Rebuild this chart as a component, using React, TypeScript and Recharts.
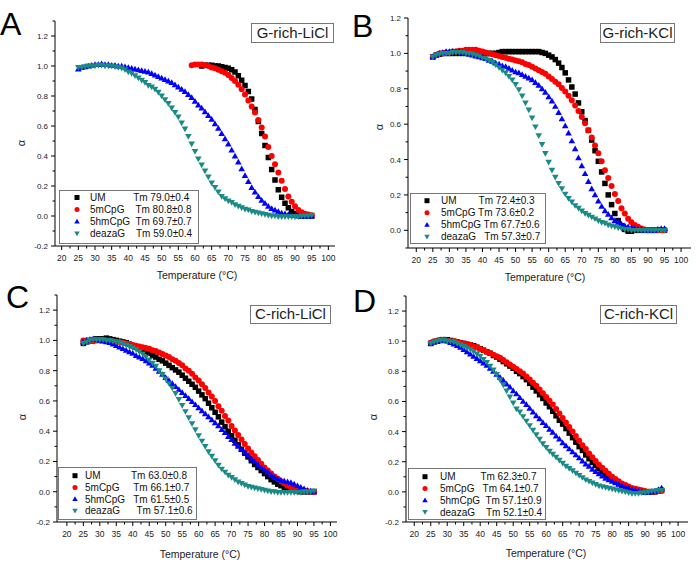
import React from 'react';
import { ScatterChart, Scatter, XAxis, YAxis } from 'recharts';

// melting curves, one reading per degree
const aUM = [1.0, 1.005, 1.005, 1.005, 1.0, 1.0, 0.995, 0.99, 0.985, 0.975, 0.96, 0.935, 0.905, 0.87, 0.83, 0.78, 0.71, 0.63, 0.55, 0.47, 0.39, 0.31, 0.24, 0.175, 0.125, 0.085, 0.055, 0.03, 0.015, 0.005, 0.0, 0.0, 0.0, 0.0];
const a5m = [1.005, 1.01, 1.01, 1.01, 1.005, 1.0, 0.99, 0.985, 0.975, 0.965, 0.955, 0.94, 0.92, 0.9, 0.875, 0.845, 0.81, 0.77, 0.73, 0.69, 0.64, 0.59, 0.53, 0.46, 0.4, 0.345, 0.29, 0.235, 0.18, 0.13, 0.095, 0.065, 0.04, 0.025, 0.015, 0.01, 0.005];
const a5hm = [0.98, 0.99, 0.995, 1.0, 1.005, 1.01, 1.01, 1.015, 1.01, 1.01, 1.005, 1.005, 1.0, 1.0, 0.995, 0.99, 0.985, 0.98, 0.975, 0.97, 0.965, 0.96, 0.95, 0.94, 0.93, 0.92, 0.91, 0.9, 0.89, 0.875, 0.86, 0.845, 0.83, 0.81, 0.79, 0.765, 0.74, 0.72, 0.695, 0.67, 0.645, 0.615, 0.585, 0.55, 0.515, 0.48, 0.44, 0.4, 0.36, 0.315, 0.27, 0.23, 0.19, 0.16, 0.13, 0.105, 0.085, 0.065, 0.05, 0.04, 0.03, 0.02, 0.015, 0.01, 0.005, 0.005, 0.0, 0.0, 0.0, 0.0, 0.0];
const aDeaza = [0.99, 0.99, 0.995, 1.0, 1.0, 1.0, 1.005, 1.005, 1.0, 1.0, 1.0, 0.995, 0.99, 0.985, 0.975, 0.96, 0.95, 0.935, 0.92, 0.905, 0.89, 0.87, 0.86, 0.845, 0.825, 0.8, 0.775, 0.75, 0.72, 0.69, 0.66, 0.62, 0.58, 0.53, 0.48, 0.43, 0.38, 0.34, 0.3, 0.26, 0.22, 0.19, 0.16, 0.13, 0.115, 0.1, 0.09, 0.075, 0.065, 0.055, 0.045, 0.04, 0.03, 0.025, 0.02, 0.015, 0.01, 0.005, 0.0, 0.0, -0.005, -0.005, -0.005, -0.005, -0.005, -0.005, -0.005, 0.0, 0.0, 0.0, 0.005];

const bUM = [0.98, 0.99, 0.995, 1.0, 1.0, 1.0, 1.0, 1.0, 1.0, 1.0, 1.0, 1.0, 1.0, 1.0, 1.0, 1.0, 1.0, 1.0, 1.0, 1.0, 1.005, 1.01, 1.01, 1.01, 1.01, 1.01, 1.01, 1.01, 1.01, 1.01, 1.01, 1.01, 1.01, 1.005, 1.0, 0.99, 0.98, 0.965, 0.945, 0.92, 0.89, 0.85, 0.81, 0.77, 0.72, 0.67, 0.62, 0.565, 0.51, 0.45, 0.39, 0.33, 0.265, 0.2, 0.145, 0.095, 0.055, 0.025, 0.005, -0.005, -0.005, 0.0, 0.0, 0.0, 0.0, 0.0, 0.0, 0.0, 0.0, 0.0, 0.0];
const b5m = [0.98, 0.99, 1.0, 1.0, 1.005, 1.005, 1.01, 1.01, 1.015, 1.015, 1.02, 1.02, 1.02, 1.02, 1.015, 1.01, 1.005, 1.0, 0.995, 0.99, 0.985, 0.98, 0.975, 0.97, 0.965, 0.96, 0.955, 0.95, 0.94, 0.935, 0.925, 0.915, 0.905, 0.895, 0.885, 0.87, 0.855, 0.84, 0.825, 0.805, 0.785, 0.76, 0.735, 0.705, 0.675, 0.64, 0.605, 0.565, 0.525, 0.48, 0.435, 0.39, 0.34, 0.295, 0.25, 0.205, 0.165, 0.125, 0.095, 0.065, 0.045, 0.03, 0.02, 0.01, 0.005, 0.0, 0.0, 0.0, 0.0, 0.0, 0.0];
const b5hm = [0.98, 0.99, 1.0, 1.005, 1.01, 1.01, 1.01, 1.01, 1.01, 1.005, 1.0, 0.995, 0.99, 0.985, 0.98, 0.975, 0.97, 0.96, 0.955, 0.945, 0.94, 0.93, 0.925, 0.915, 0.905, 0.895, 0.89, 0.88, 0.87, 0.86, 0.85, 0.835, 0.82, 0.8, 0.78, 0.755, 0.73, 0.7, 0.665, 0.63, 0.59, 0.55, 0.505, 0.46, 0.41, 0.365, 0.32, 0.275, 0.235, 0.2, 0.165, 0.135, 0.11, 0.09, 0.07, 0.055, 0.045, 0.035, 0.025, 0.02, 0.015, 0.01, 0.005, 0.005, 0.0, 0.0, 0.0, 0.0, 0.005, 0.01, 0.01];
const bDeaza = [0.98, 0.99, 0.995, 1.0, 1.0, 1.0, 1.005, 1.005, 1.005, 1.005, 1.0, 1.0, 0.995, 0.99, 0.985, 0.975, 0.97, 0.96, 0.95, 0.935, 0.92, 0.905, 0.89, 0.87, 0.85, 0.825, 0.795, 0.76, 0.72, 0.68, 0.635, 0.585, 0.535, 0.485, 0.435, 0.385, 0.34, 0.3, 0.265, 0.235, 0.205, 0.18, 0.16, 0.14, 0.125, 0.11, 0.095, 0.085, 0.075, 0.065, 0.055, 0.045, 0.04, 0.03, 0.025, 0.02, 0.015, 0.01, 0.005, 0.005, 0.0, 0.0, 0.0, 0.0, 0.0, 0.0, 0.0, 0.0, 0.0, 0.0, 0.0];

const cUM = [0.98, 0.99, 1.0, 1.005, 1.01, 1.01, 1.01, 1.015, 1.01, 1.005, 1.0, 0.995, 0.99, 0.985, 0.975, 0.965, 0.955, 0.945, 0.935, 0.925, 0.915, 0.9, 0.89, 0.875, 0.865, 0.85, 0.835, 0.82, 0.805, 0.79, 0.77, 0.75, 0.73, 0.71, 0.69, 0.665, 0.64, 0.615, 0.585, 0.555, 0.525, 0.495, 0.46, 0.43, 0.4, 0.37, 0.34, 0.31, 0.28, 0.255, 0.23, 0.205, 0.18, 0.16, 0.14, 0.12, 0.1, 0.08, 0.065, 0.05, 0.04, 0.03, 0.02, 0.015, 0.01, 0.005, 0.0, 0.0, 0.0, 0.0, 0.0];
const c5m = [1.0, 1.0, 0.995, 0.995, 1.0, 1.0, 1.0, 1.0, 1.0, 0.995, 0.99, 0.99, 0.985, 0.98, 0.975, 0.97, 0.965, 0.96, 0.955, 0.95, 0.945, 0.935, 0.93, 0.92, 0.91, 0.9, 0.89, 0.875, 0.865, 0.85, 0.835, 0.815, 0.8, 0.78, 0.755, 0.735, 0.71, 0.685, 0.655, 0.63, 0.6, 0.565, 0.535, 0.5, 0.47, 0.435, 0.405, 0.375, 0.345, 0.315, 0.285, 0.26, 0.235, 0.21, 0.185, 0.16, 0.14, 0.12, 0.1, 0.085, 0.07, 0.055, 0.04, 0.03, 0.025, 0.015, 0.01, 0.005, 0.005, 0.0, 0.0];
const c5hm = [0.99, 1.0, 1.005, 1.01, 1.005, 1.0, 0.995, 0.99, 0.985, 0.975, 0.965, 0.955, 0.945, 0.935, 0.925, 0.915, 0.9, 0.89, 0.88, 0.865, 0.85, 0.835, 0.815, 0.795, 0.775, 0.755, 0.735, 0.715, 0.695, 0.675, 0.655, 0.635, 0.615, 0.595, 0.575, 0.555, 0.535, 0.515, 0.495, 0.475, 0.455, 0.435, 0.41, 0.39, 0.365, 0.345, 0.32, 0.3, 0.28, 0.26, 0.24, 0.22, 0.2, 0.18, 0.16, 0.145, 0.13, 0.11, 0.095, 0.085, 0.075, 0.07, 0.065, 0.06, 0.05, 0.04, 0.03, 0.02, 0.01, 0.005, 0.0];
const cDeaza = [0.98, 0.99, 1.0, 1.005, 1.005, 1.005, 1.005, 1.0, 1.0, 0.995, 0.99, 0.985, 0.98, 0.97, 0.96, 0.95, 0.94, 0.925, 0.91, 0.89, 0.87, 0.85, 0.83, 0.8, 0.775, 0.745, 0.715, 0.685, 0.65, 0.61, 0.57, 0.53, 0.49, 0.45, 0.41, 0.37, 0.335, 0.3, 0.265, 0.235, 0.205, 0.175, 0.15, 0.13, 0.11, 0.095, 0.08, 0.065, 0.055, 0.045, 0.035, 0.03, 0.025, 0.02, 0.015, 0.01, 0.005, 0.0, 0.0, -0.005, -0.005, -0.005, -0.005, -0.005, -0.005, -0.005, -0.005, 0.0, 0.0, 0.0, 0.005];

const dUM = [0.985, 0.995, 1.0, 1.005, 1.01, 1.01, 1.005, 1.0, 0.995, 0.99, 0.985, 0.98, 0.975, 0.97, 0.96, 0.95, 0.94, 0.93, 0.92, 0.905, 0.895, 0.88, 0.865, 0.85, 0.835, 0.82, 0.8, 0.785, 0.765, 0.745, 0.72, 0.695, 0.67, 0.645, 0.62, 0.59, 0.565, 0.535, 0.505, 0.475, 0.45, 0.42, 0.39, 0.36, 0.33, 0.3, 0.275, 0.245, 0.22, 0.195, 0.175, 0.155, 0.135, 0.115, 0.1, 0.085, 0.07, 0.055, 0.045, 0.035, 0.025, 0.02, 0.015, 0.01, 0.005, 0.0, 0.0, 0.0, 0.0, 0.005, 0.01];
const d5m = [0.99, 1.0, 1.005, 1.01, 1.01, 1.005, 1.0, 1.0, 0.995, 0.99, 0.985, 0.98, 0.975, 0.965, 0.96, 0.95, 0.94, 0.93, 0.92, 0.91, 0.9, 0.89, 0.875, 0.86, 0.845, 0.83, 0.815, 0.8, 0.785, 0.765, 0.745, 0.725, 0.705, 0.68, 0.655, 0.63, 0.605, 0.58, 0.55, 0.52, 0.49, 0.46, 0.43, 0.4, 0.37, 0.34, 0.31, 0.285, 0.255, 0.23, 0.205, 0.18, 0.16, 0.14, 0.12, 0.1, 0.085, 0.07, 0.055, 0.045, 0.035, 0.025, 0.02, 0.015, 0.01, 0.005, 0.0, 0.0, 0.0, 0.005, 0.005];
const d5hm = [0.985, 0.995, 1.0, 1.005, 1.005, 1.0, 0.99, 0.98, 0.97, 0.96, 0.945, 0.93, 0.915, 0.9, 0.885, 0.87, 0.855, 0.84, 0.82, 0.8, 0.78, 0.76, 0.74, 0.715, 0.695, 0.67, 0.65, 0.625, 0.6, 0.58, 0.555, 0.53, 0.505, 0.485, 0.46, 0.44, 0.415, 0.395, 0.37, 0.35, 0.325, 0.305, 0.285, 0.265, 0.245, 0.225, 0.205, 0.185, 0.17, 0.15, 0.135, 0.12, 0.105, 0.09, 0.08, 0.07, 0.06, 0.05, 0.04, 0.03, 0.025, 0.015, 0.01, 0.005, 0.0, -0.005, -0.005, 0.0, 0.005, 0.015, 0.025];
const dDeaza = [0.985, 0.995, 1.0, 1.005, 1.005, 1.0, 1.0, 0.995, 0.985, 0.975, 0.965, 0.955, 0.945, 0.93, 0.915, 0.9, 0.88, 0.86, 0.835, 0.81, 0.78, 0.745, 0.71, 0.67, 0.63, 0.59, 0.55, 0.53, 0.5, 0.47, 0.44, 0.41, 0.38, 0.35, 0.32, 0.295, 0.27, 0.25, 0.23, 0.21, 0.19, 0.17, 0.155, 0.14, 0.125, 0.11, 0.095, 0.08, 0.07, 0.06, 0.05, 0.04, 0.035, 0.03, 0.025, 0.02, 0.015, 0.01, 0.005, 0.0, -0.005, -0.01, -0.01, -0.01, -0.005, -0.005, 0.0, 0.005, 0.005, 0.01, 0.01];

const seriesNames = ['UM', '5mCpG', '5hmCpG', 'deazaG'];
const seriesColors = ['#000000', '#ff0000', '#0000ff', '#1a8a86'];
const seriesShapes = ['square', 'circle', 'triangle', 'down'];

const legendA = ['UM          Tm 79.0±0.4', '5mCpG    Tm 80.8±0.8', '5hmCpG  Tm 69.7±0.7', 'deazaG    Tm 59.0±0.4'];
const legendB = ['UM        Tm 72.4±0.3', '5mCpG Tm 73.6±0.2', '5hmCpG Tm 67.7±0.6', 'deazaG   Tm 57.3±0.7'];
const legendC = ['UM           Tm 63.0±0.8', '5mCpG     Tm 66.1±0.7', '5hmCpG   Tm 61.5±0.5', 'deazaG      Tm 57.1±0.6'];
const legendD = ['UM         Tm 62.3±0.7', '5mCpG   Tm 64.1±0.7', '5hmCpG  Tm 57.1±0.9', 'deazaG    Tm 52.1±0.4'];

const xMajor = [20, 25, 30, 35, 40, 45, 50, 55, 60, 65, 70, 75, 80, 85, 90, 95, 100];
const yTicksWide = [-0.2, -0.1, 0, 0.1, 0.2, 0.3, 0.4, 0.5, 0.6, 0.7, 0.8, 0.9, 1.0, 1.1, 1.2, 1.3];
const yTicksB = [-0.1, 0, 0.1, 0.2, 0.3, 0.4, 0.5, 0.6, 0.7, 0.8, 0.9, 1.0, 1.1, 1.2];

const xTicks = xMajor.flatMap((t, i) => (i < xMajor.length - 1 ? [t, t + 2.5] : [t]));

const FONT = "Arial, 'Liberation Sans', sans-serif";

const toPoints = (start: number, vals: number[]) => vals.map((v, i) => ({ t: start + i, v }));

const panels = [
  {
    letter: 'A', letterPos: [0, 35], title: 'G-rich-LiCl', titleBox: [251, 23, 82, 19],
    plot: [55, 335, 21, 246], xDomain: [18, 102], yDomain: [-0.2, 1.3], yTicks: yTicksWide,
    alpha: [22, 143], temp: [197, 279],
    legend: legendA, legendBox: [59, 190, 139, 53], legendMarkX: 77, legendTextX: 90, legendRow0: 197.5, legendStep: 12,
    series: [toPoints(62, aUM), toPoints(59, a5m), toPoints(25, a5hm), toPoints(25, aDeaza)],
  },
  {
    letter: 'B', letterPos: [352, 37], title: 'G-rich-KCl', titleBox: [600, 23, 74, 19],
    plot: [408, 691, 18, 248], xDomain: [17.5, 103], yDomain: [-0.1, 1.2], yTicks: yTicksB,
    alpha: [380, 127], temp: [545, 281],
    legend: legendB, legendBox: [410, 193, 135, 50], legendMarkX: 427, legendTextX: 441, legendRow0: 200.7, legendStep: 12,
    series: [toPoints(25, bUM), toPoints(25, b5m), toPoints(25, b5hm), toPoints(25, bDeaza)],
  },
  {
    letter: 'C', letterPos: [6, 308], title: 'C-rich-LiCl', titleBox: [250, 305, 80, 18],
    plot: [57, 337, 295, 522], xDomain: [17, 102], yDomain: [-0.2, 1.3], yTicks: yTicksWide,
    alpha: [23, 417], temp: [200, 558],
    legend: legendC, legendBox: [58, 467, 138, 52], legendMarkX: 75, legendTextX: 85, legendRow0: 475.7, legendStep: 11.7,
    series: [toPoints(25, cUM), toPoints(25, c5m), toPoints(25, c5hm), toPoints(25, cDeaza)],
  },
  {
    letter: 'D', letterPos: [353, 312], title: 'C-rich-KCl', titleBox: [600, 305, 76, 18],
    plot: [406, 688, 296, 522], xDomain: [17.5, 103], yDomain: [-0.2, 1.3], yTicks: yTicksWide,
    alpha: [374, 417], temp: [546, 557],
    legend: legendD, legendBox: [408, 468, 137, 51], legendMarkX: 425, legendTextX: 440, legendRow0: 476.7, legendStep: 11.8,
    series: [toPoints(25, dUM), toPoints(25, d5m), toPoints(25, d5hm), toPoints(25, dDeaza)],
  },
];

function Marker({ cx, cy, kind, color, size }: any) {
  if (cx == null || cy == null) return null;
  const h = size / 2;
  if (kind === 'square') return <rect x={cx - h} y={cy - h} width={size} height={size} fill={color} />;
  if (kind === 'circle') return <circle cx={cx} cy={cy} r={h} fill={color} />;
  if (kind === 'triangle')
    return <polygon points={`${cx},${cy - h * 1.1} ${cx - h * 1.1},${cy + h * 0.8} ${cx + h * 1.1},${cy + h * 0.8}`} fill={color} />;
  return <polygon points={`${cx},${cy + h * 1.1} ${cx - h * 1.1},${cy - h * 0.8} ${cx + h * 1.1},${cy - h * 0.8}`} fill={color} />;
}

function XTick({ x, y, payload }: any) {
  const major = Number.isInteger(payload.value) && payload.value % 5 === 0;
  return (
    <g>
      <line x1={x} x2={x} y1={y} y2={y + (major ? 4 : 2.5)} stroke="#000" strokeWidth={1} />
      {major && (
        <text x={x} y={y + 15} textAnchor="middle" fontSize={8.5} fontFamily={FONT} fill="#222">
          {payload.value}
        </text>
      )}
    </g>
  );
}

function YTick({ x, y, payload }: any) {
  const tenth = Math.round(payload.value * 10);
  const major = tenth % 2 === 0;
  return (
    <g>
      <line x1={x - (major ? 4 : 2.5)} x2={x} y1={y} y2={y} stroke="#000" strokeWidth={1} />
      {major && (
        <text x={x - 7} y={y + 3} textAnchor="end" fontSize={8} fontFamily={FONT} fill="#222">
          {(tenth / 10).toFixed(1)}
        </text>
      )}
    </g>
  );
}

function Panel({ p }: any) {
  const [x0, x1, y0, y1] = p.plot;
  const width = x1 - x0 + 60;
  const height = y1 - y0 + 55;
  return (
    <div style={{ position: 'absolute', left: x0 - 50, top: y0 - 10 }}>
      <ScatterChart width={width} height={height} margin={{ top: 10, right: 10, left: 10, bottom: 5 }}>
        <XAxis
          type="number"
          dataKey="t"
          domain={p.xDomain}
          ticks={xTicks}
          interval={0}
          height={40}
          allowDataOverflow
          tickSize={0}
          tickMargin={0}
          tickLine={false}
          tick={<XTick />}
          axisLine={{ stroke: '#000', strokeWidth: 1 }}
        />
        <YAxis
          type="number"
          dataKey="v"
          domain={p.yDomain}
          ticks={p.yTicks}
          interval={0}
          width={40}
          allowDataOverflow
          tickSize={0}
          tickMargin={0}
          tickLine={false}
          tick={<YTick />}
          axisLine={{ stroke: '#000', strokeWidth: 1 }}
        />
        {p.series.map((data: any, i: number) => (
          <Scatter
            key={seriesNames[i]}
            name={seriesNames[i]}
            data={data}
            isAnimationActive={false}
            shape={(props: any) => (
              <Marker cx={props.cx} cy={props.cy} kind={seriesShapes[i]} color={seriesColors[i]} size={i === 0 ? 5.5 : 6} />
            )}
          />
        ))}
      </ScatterChart>
    </div>
  );
}

function Overlay() {
  return (
    <svg width={696} height={563} style={{ position: 'absolute', left: 0, top: 0, pointerEvents: 'none' }}>
      {panels.map((p) => {
        const [bx, by, bw, bh] = p.titleBox;
        const [lx, ly, lw, lh] = p.legendBox;
        return (
          <g key={p.letter} fontFamily={FONT}>
            <text x={p.letterPos[0]} y={p.letterPos[1]} fontSize={32} fill="#000">{p.letter}</text>
            <rect x={bx + 0.5} y={by + 0.5} width={bw} height={bh} fill="#fff" stroke="#777" />
            <text x={bx + bw / 2 + 0.5} y={by + bh - 4} textAnchor="middle" fontSize={15} fill="#222">{p.title}</text>
            <text
              x={p.alpha[0]}
              y={p.alpha[1]}
              transform={`rotate(-90 ${p.alpha[0]} ${p.alpha[1]})`}
              textAnchor="middle"
              dominantBaseline="middle"
              fontSize={11}
              fill="#222"
            >
              α
            </text>
            <text x={p.temp[0]} y={p.temp[1]} textAnchor="middle" fontSize={10.5} fill="#222">Temperature (°C)</text>
            <rect x={lx + 0.5} y={ly + 0.5} width={lw} height={lh} fill="#fff" stroke="#777" />
            {p.legend.map((label: string, i: number) => {
              const cy = p.legendRow0 + i * p.legendStep;
              return (
                <g key={label}>
                  <Marker cx={p.legendMarkX} cy={cy} kind={seriesShapes[i]} color={seriesColors[i]} size={5} />
                  <text x={p.legendTextX} y={cy + 3.5} fontSize={10} fill="#111" style={{ whiteSpace: 'pre' }}>
                    {label}
                  </text>
                </g>
              );
            })}
          </g>
        );
      })}
    </svg>
  );
}

export default function App() {
  return (
    <div style={{ position: 'absolute', left: 0, top: 0, width: 696, height: 563, background: '#fff' }}>
      {panels.map((p) => (
        <Panel key={p.letter} p={p} />
      ))}
      <Overlay />
    </div>
  );
}
